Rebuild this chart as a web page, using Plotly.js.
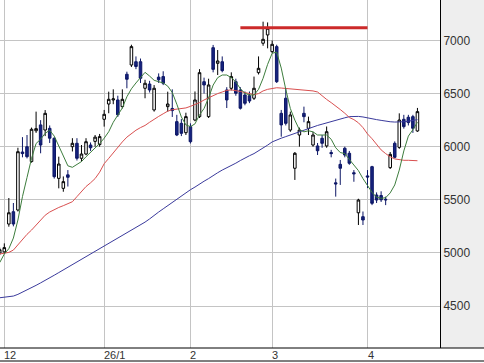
<!DOCTYPE html>
<html>
<head>
<meta charset="utf-8">
<script src="https://cdn.plot.ly/plotly-3.0.1.min.js"></script>
<style>html,body{margin:0;padding:0;background:#fff;}#chart{width:484px;height:363px;}</style>
</head>
<body>
<div id="chart"></div>
<script>
const dates = [
 '2025-11-28',
 '2025-12-01','2025-12-02','2025-12-03','2025-12-04','2025-12-05','2025-12-08','2025-12-09','2025-12-10','2025-12-11','2025-12-12',
 '2025-12-15','2025-12-16','2025-12-17','2025-12-18','2025-12-19','2025-12-22','2025-12-23','2025-12-24','2025-12-25','2025-12-26',
 '2025-12-29','2025-12-30',
 '2026-01-05','2026-01-06','2026-01-07','2026-01-08','2026-01-09','2026-01-13','2026-01-14','2026-01-15','2026-01-16','2026-01-19',
 '2026-01-20','2026-01-21','2026-01-22','2026-01-23','2026-01-26','2026-01-27','2026-01-28','2026-01-29','2026-01-30',
 '2026-02-02','2026-02-03','2026-02-04','2026-02-05','2026-02-06','2026-02-09','2026-02-10','2026-02-12','2026-02-13','2026-02-16',
 '2026-02-17','2026-02-18','2026-02-19','2026-02-20','2026-02-24','2026-02-25','2026-02-26','2026-02-27',
 '2026-03-02','2026-03-03','2026-03-04','2026-03-05','2026-03-06','2026-03-09','2026-03-10','2026-03-11','2026-03-12','2026-03-13',
 '2026-03-16','2026-03-17','2026-03-18','2026-03-19','2026-03-23','2026-03-24','2026-03-25','2026-03-26','2026-03-27','2026-03-30','2026-03-31',
 '2026-04-01','2026-04-02','2026-04-03','2026-04-06','2026-04-07','2026-04-08','2026-04-09','2026-04-10','2026-04-13','2026-04-14','2026-04-15','2026-04-16'
];
const openP = [5000,
 5010,5272,5388,5404,5950,6000,5860,6150,6205,6157,6173,6079,5702,5608,5735,6000,6032,5891,5931,6016,6050,6020,
 6258,6402,6440,6440,6377,6682,6769,6800,6800,6550,6590,6346,6655,6660,6377,6360,6236,6220,6132,
 6189,6251,6283,6612,6283,6932,6785,6800,6534,6550,6612,6534,6487,6480,6456,6697,6974,7052,
 6895,6942,6314,6456,6157,5797,6110,6314,6173,6016,6007,6079,6007,5945,5660,5834,5985,5938,5755,5378,5341,
 5725,5812,5545,5540,5505,5803,6032,5994,6258,6277,6283,6148];
const highP = [5050,
 5090,5517,5470,5990,6090,6110,6180,6330,6250,6345,6200,6090,5906,5720,5780,6080,6080,6016,6080,6040,6110,6120,
 6346,6518,6540,6480,6540,6706,6960,6850,6830,6630,6620,6580,6690,6710,6518,6540,6300,6260,6320,
 6220,6520,6730,6650,6640,6958,6910,6850,6560,6700,6640,6560,6520,6520,6660,6850,7177,7170,
 7000,6960,6346,6550,6330,5950,6180,6377,6283,6140,6035,6110,6190,5970,5700,5875,6000,5960,5780,5510,5390,
 5780,5820,5570,5580,5530,5950,6050,6314,6300,6300,6300,6365];
const lowP = [4980,
 4990,5247,5250,5390,5900,5890,5850,6130,5938,6100,6035,5700,5608,5576,5625,5955,5870,5860,5920,5960,6000,6000,
 6189,6315,6400,6280,6360,6550,6750,6730,6600,6456,6510,6330,6600,6580,6330,6280,6100,6100,6110,
 6030,6240,6270,6500,6270,6700,6675,6700,6364,6530,6480,6350,6390,6410,6440,6680,6950,6926,
 6880,6600,6094,6200,6140,5687,6000,6230,6110,6000,5922,5990,5990,5900,5530,5640,5900,5830,5670,5263,5263,
 5610,5450,5470,5480,5450,5790,5890,5980,6170,6200,6130,6140];
const closeP = [5030,
 5050,5378,5272,5953,5935,5906,6164,6170,6016,6314,6080,5718,5837,5671,5712,6032,5891,5931,6047,5990,6090,6095,
 6305,6446,6450,6300,6446,6635,6942,6755,6644,6597,6534,6550,6630,6597,6402,6340,6110,6126,6283,
 6047,6440,6697,6581,6581,6728,6807,6716,6440,6660,6503,6362,6409,6430,6550,6738,7011,7115,
 6964,6612,6205,6220,6299,5938,6157,6283,6236,6110,5962,6032,6141,5935,5650,5797,5922,5844,5745,5498,5310,
 5715,5467,5498,5500,5500,5928,5900,6251,6189,6227,6173,6330];
// moving averages
const ma5 = [4910,
 4990,5040,5140,5310,5530,5710,5890,6030,6070,6126,6155,6100,6010,5910,5820,5806,5830,5860,5905,5945,5990,6030,
 6080,6141,6230,6300,6365,6470,6545,6600,6650,6700,6665,6625,6612,6600,6570,6510,6400,6280,6205,
 6189,6215,6300,6360,6460,6580,6650,6675,6675,6650,6610,6545,6503,6487,6487,6540,6644,6775,
 6880,6890,6740,6540,6360,6250,6160,6140,6150,6140,6110,6110,6110,6070,5990,5945,5935,5880,5830,5775,5700,
 5630,5570,5525,5514,5520,5565,5640,5780,5960,6100,6160,6230];
const ma25 = [4990,
 4995,5005,5027,5080,5130,5175,5215,5260,5310,5355,5385,5410,5428,5445,5460,5482,5530,5580,5625,5660,5700,5760,
 5840,5890,5945,5995,6045,6090,6125,6155,6180,6200,6230,6260,6285,6310,6335,6348,6355,6360,6365,
 6380,6395,6415,6440,6460,6485,6500,6515,6530,6535,6530,6520,6510,6500,6490,6500,6525,6540,
 6550,6555,6552,6548,6545,6540,6537,6534,6534,6525,6515,6478,6445,6415,6385,6350,6315,6275,6255,6225,6180,
 6120,6075,6020,5970,5935,5905,5885,5875,5872,5872,5870,5868];
const ma75 = [4578,
 4582,4590,4594,4610,4630,4650,4672,4695,4718,4740,4765,4790,4815,4840,4862,4885,4910,4935,4960,4985,5010,5035,
 5062,5090,5115,5140,5165,5185,5212,5240,5265,5290,5320,5355,5385,5415,5445,5480,5510,5540,5570,
 5595,5620,5650,5675,5700,5730,5755,5780,5800,5820,5845,5870,5895,5915,5935,5960,5990,6015,
 6045,6065,6080,6095,6110,6125,6140,6157,6175,6190,6200,6212,6225,6240,6252,6262,6272,6283,6287,6285,6280,
 6270,6262,6255,6248,6240,6235,6232,6232,6235,6240,6248,6255];
const resistanceLevel = 7120;
const resistanceStart = '2026-02-18';
const resistanceEnd = '2026-04-01';
const monthTicks = ['2025-12-01','2026-01-05','2026-02-02','2026-03-02','2026-04-01'];
const monthLabels = ['12','26/1','2','3','4'];
const yTicks = [4500,5000,5500,6000,6500,7000];

const traces = [
 {type:'candlestick', x:dates, open:openP, high:highP, low:lowP, close:closeP,
  increasing:{line:{color:'#000000',width:1}, fillcolor:'#ffffff'},
  decreasing:{line:{color:'#0d1766',width:1}, fillcolor:'#16237f'},
  whiskerwidth:0, hoverinfo:'skip', showlegend:false},
 {type:'scatter', mode:'lines', x:dates, y:ma75, line:{color:'#3a3a9c',width:1}, hoverinfo:'skip'},
 {type:'scatter', mode:'lines', x:dates, y:ma25, line:{color:'#d95050',width:1}, hoverinfo:'skip'},
 {type:'scatter', mode:'lines', x:dates, y:ma5, line:{color:'#3d7d3d',width:1}, hoverinfo:'skip'},
 {type:'scatter', mode:'lines', x:[resistanceStart,resistanceEnd], y:[resistanceLevel,resistanceLevel], line:{color:'#cc2a2a',width:3}, hoverinfo:'skip'}
];

const H = 348;
const layout = {
 width:484, height:363,
 margin:{l:0,r:44,t:0,b:15,pad:0},
 paper_bgcolor:'#eeeeee', plot_bgcolor:'#ffffff',
 showlegend:false,
 boxgap:0.2,
 xaxis:{type:'category', range:[0.053,96.97], tickvals:monthTicks, showticklabels:false, ticks:'',
   showgrid:true, gridcolor:'#c4c4c4', gridwidth:1, zeroline:false, showline:false,
   rangeslider:{visible:false}, fixedrange:true},
 yaxis:{side:'right', range:[4105,7381], tickvals:yTicks, ticks:'', showgrid:true, gridcolor:'#c4c4c4', gridwidth:1,
   zeroline:false, showline:true, linecolor:'#000000', linewidth:1,
   tickfont:{family:'Liberation Sans, Arial, sans-serif', size:12, color:'#333333'}, fixedrange:true},
 shapes:[
  {type:'rect', xref:'paper', yref:'paper', x0:0, x1:1.1, y0:-15/H, y1:0, fillcolor:'#ffffff', line:{width:0}, layer:'below'},
  {type:'line', xref:'paper', yref:'paper', x0:0, x1:1.1, y0:0, y1:0, line:{color:'#000000',width:1}},
  {type:'line', xref:'paper', yref:'paper', x0:0, x1:1.1, y0:-13/H, y1:-13/H, line:{color:'#000000',width:1}}
 ],
 annotations: monthTicks.map((d,i)=>({x:d, xref:'x', yref:'paper', y:-7/H, yanchor:'middle', xanchor:'left',
   text:monthLabels[i], showarrow:false, xshift:-1, borderpad:0,
   font:{family:'Liberation Sans, Arial, sans-serif', size:11, color:'#333333'}}))
};
Plotly.newPlot('chart', traces, layout, {staticPlot:true, displayModeBar:false});
</script>
</body>
</html>
